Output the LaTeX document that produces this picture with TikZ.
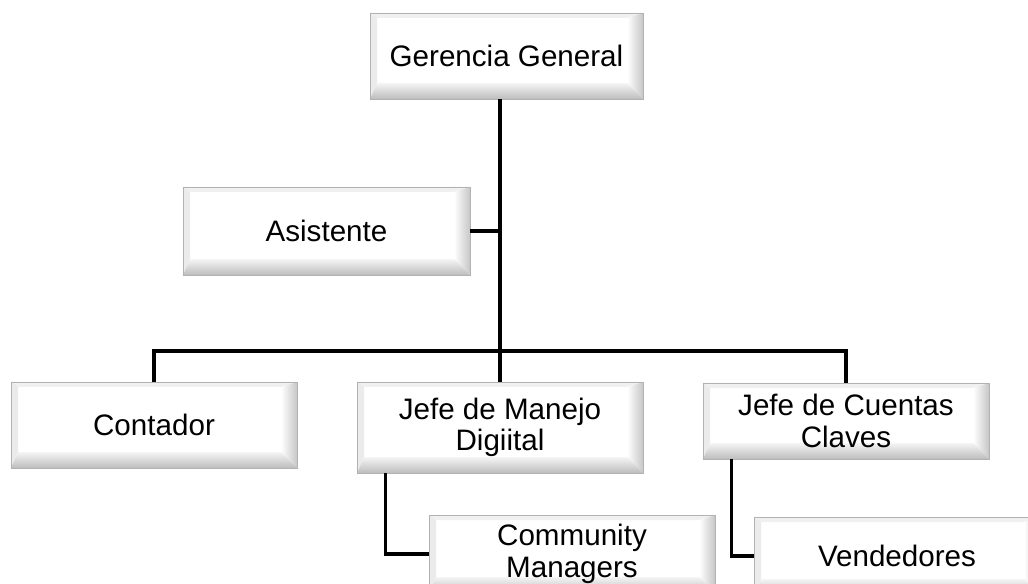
\documentclass[tikz,border=0pt]{standalone}
\usepackage{fontspec}
\setmainfont{Liberation Sans}
\usepackage{tikz}
\usetikzlibrary{calc}
\newcommand{\cargofont}{\fontsize{22.2}{23.5}\selectfont}
\tikzset{
    cargo/.style={draw=black!30, line width=0.7pt, fill=white, align=center,
        inner sep=0pt, font=\cargofont, minimum width=214.5pt, minimum height=66pt,
        path picture={
            \path (path picture bounding box.north west) coordinate (pnw)
                  (path picture bounding box.south east) coordinate (pse);
            \coordinate (inw) at ($(pnw)+(7,5)$);
            \coordinate (ise) at ($(pse)+(-16,-16)$);
            \fill[black!6] (pnw) -- (pnw -| pse) -- (inw -| ise) -- (inw) -- cycle;
            \fill[black!8] (pnw) -- (inw) -- (inw |- ise) -- (pnw |- pse) -- cycle;
            \shade[left color=white, right color=black!22]
                (pnw -| pse) -- (pse) -- (ise) -- (inw -| ise) -- cycle;
            \shade[top color=black!4, bottom color=black!26]
                (pnw |- pse) -- (pse) -- (ise) -- (inw |- ise) -- cycle;
        }},
    linea/.style={line width=2.3pt, black}
}
\begin{document}
\begin{tikzpicture}[x=0.75pt, y=-0.75pt]
    \useasboundingbox (0,0) rectangle (1028,584);
    \clip (0,0) rectangle (1028,584);
    \node[cargo, minimum width=204.75pt, minimum height=64.5pt] (ger) at (506.5,56) {Gerencia General};
    \node[cargo, minimum width=215.25pt] (asis) at (326.5,231) {Asistente};
    \node[cargo, minimum height=64.5pt] (cont) at (154,425) {Contador};
    \node[cargo, minimum height=68.25pt] (man) at (500,427.5) {Jefe de Manejo\\Digiital};
    \node[cargo, minimum height=57pt] (cue) at (846,421) {Jefe de Cuentas\\Claves};
    \node[cargo, minimum height=58.5pt] (com) at (572,554) {Community\\Managers};
    \node[cargo, minimum height=58.5pt] (ven) at (897,556) {Vendedores};
    \coordinate (bus) at (501,351);
    % tronco y ramas
    \draw[linea] (ger.south -| man.north) -- (man.north);
    \draw[linea] (asis.east) -- (asis.east -| man.north);
    \draw[linea] (cont.north) |- (bus) -| (cue.north);
    \draw[linea] ([shift={(29,0)}]man.south west) |- (com.west);
    \draw[linea] ([shift={(29,0)}]cue.south west) |- (ven.west);
\end{tikzpicture}
\end{document}
